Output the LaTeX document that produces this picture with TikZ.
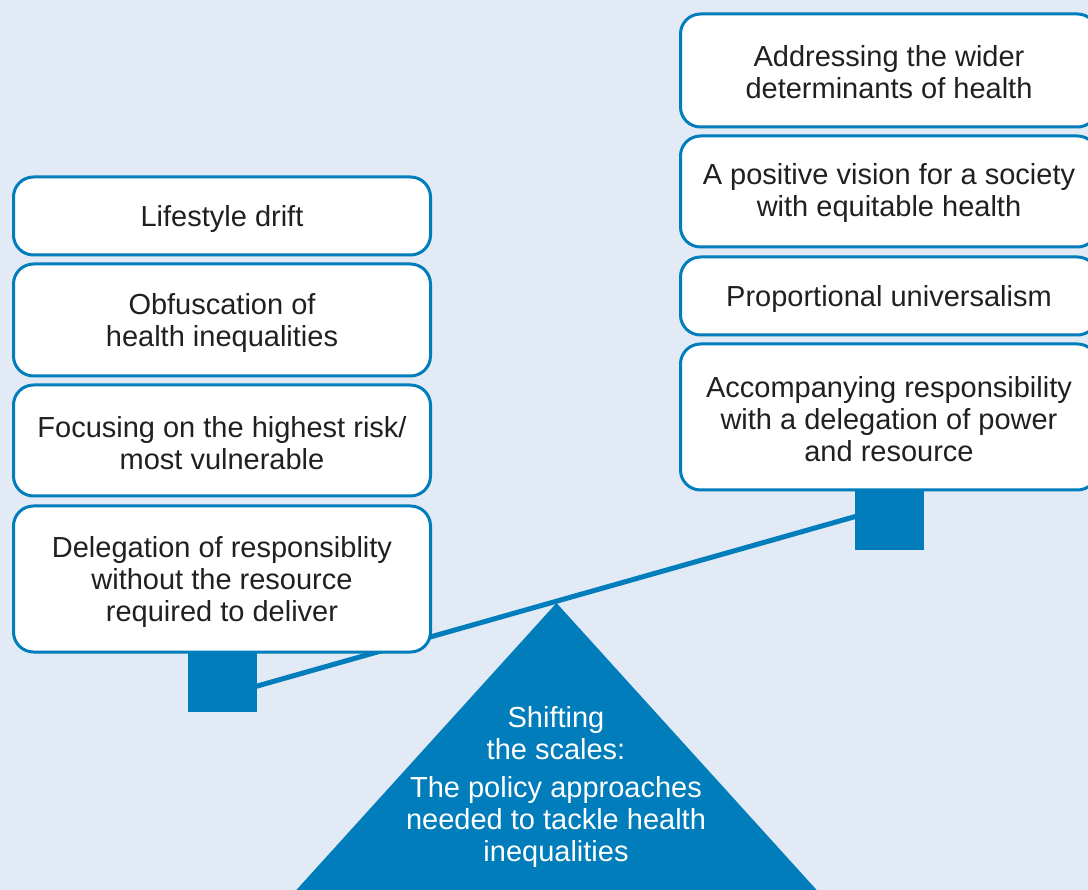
\documentclass[tikz,border=0pt]{standalone}
\usepackage{fontspec}
\setmainfont{Liberation Sans}
\definecolor{pagebg}{HTML}{E2EAF5}
\definecolor{scaleblue}{HTML}{007DBA}
\definecolor{inktext}{HTML}{231F20}
\begin{document}
\begin{tikzpicture}[x=1pt,y=-1pt,
  itembox/.style={draw=scaleblue, line width=3pt, fill=white, rounded corners=20pt,
    minimum width=417pt, inner sep=0pt},
  itemtext/.style={align=center, inner sep=0pt, text=inktext,
    font=\fontsize{29}{32}\selectfont},
  weight/.style={fill=scaleblue, draw=none, minimum width=69pt, minimum height=69pt, inner sep=0pt},
  beam/.style={draw=scaleblue, line width=5pt}
]
% background
\fill[pagebg] (0,0) rectangle (1088,890);
\useasboundingbox (0,0) rectangle (1088,890);

% beam of the scales
\coordinate (bl) at (222,696);
\coordinate (br) at (889,507);
\draw[beam] (bl) -- (br);

% weights hanging under the pans
\node[weight] (wl) at (222.5,677.5) {};
\node[weight] (wr) at (889.5,515.5) {};

% left pan
\node[itembox, minimum height=78pt]  (l1) at (222,216)   {};
\node[itembox, minimum height=112pt] (l2) at (222,320)   {};
\node[itembox, minimum height=111pt] (l3) at (222,440.5) {};
\node[itembox, minimum height=146pt] (l4) at (222,579)   {};
\node[itemtext] (l1t) at ([yshift=-3pt]l1.center) {Lifestyle drift};
\node[itemtext] (l2t) at ([yshift=-3pt]l2.center) {Obfuscation of\\health inequalities};
\node[itemtext] (l3t) at ([yshift=-3pt]l3.center) {Focusing on the highest risk/\\most vulnerable};
\node[itemtext] (l4t) at ([yshift=-3pt]l4.center) {Delegation of responsiblity\\without the resource\\required to deliver};

% right pan
\node[itembox, minimum height=113pt] (r1) at (889,70.5)  {};
\node[itembox, minimum height=111pt] (r2) at (889,191.5) {};
\node[itembox, minimum height=78pt]  (r3) at (889,296)   {};
\node[itembox, minimum height=146pt] (r4) at (889,417)   {};
\node[itemtext] (r1t) at ([yshift=-2pt]r1.center) {Addressing the wider\\determinants of health};
\node[itemtext] (r2t) at ([yshift=-2pt]r2.center) {A positive vision for a society\\with equitable health};
\node[itemtext] (r3t) at ([yshift=-3pt]r3.center) {Proportional universalism};
\node[itemtext] (r4t) at ([yshift=-2pt]r4.center) {Accompanying responsibility\\with a delegation of power\\and resource};

% fulcrum
\coordinate (apex) at (556.5,603);
\coordinate (baseL) at (290,897);
\coordinate (baseR) at (823,897);
\fill[scaleblue] (apex) -- (baseR) -- (baseL) -- cycle;
\node[itemtext, text=white] (fulcrumtext) at (556,787)
  {Shifting\\the scales:\\[6pt]The policy approaches\\needed to tackle health\\inequalities};
\end{tikzpicture}
\end{document}
